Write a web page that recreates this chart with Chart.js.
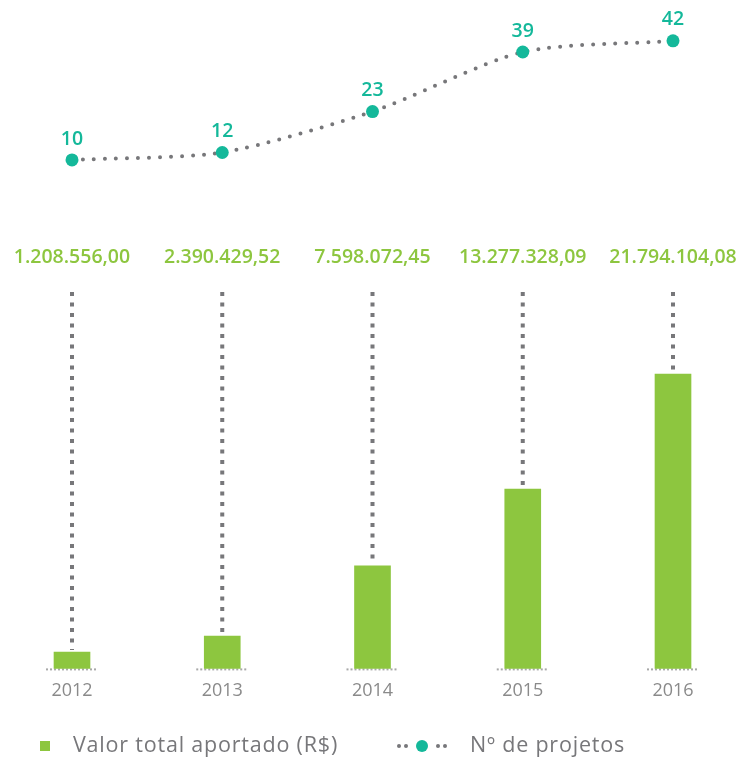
<!DOCTYPE html>
<html>
<head>
<meta charset="utf-8">
<script src="https://cdn.jsdelivr.net/npm/chart.js@4.4.1/dist/chart.umd.min.js"></script>
<style>
  html, body { margin: 0; padding: 0; background: #fff; }
  #wrap { width: 740px; height: 760px; }
</style>
</head>
<body>
<div id="wrap"><canvas id="chart" width="740" height="760"></canvas></div>
<script>
// data
const years = ['2012', '2013', '2014', '2015', '2016'];
const valorTotal = [1208556.00, 2390429.52, 7598072.45, 13277328.09, 21794104.08];
const valorLabels = ['1.208.556,00', '2.390.429,52', '7.598.072,45', '13.277.328,09', '21.794.104,08'];
const numProjetos = [10, 12, 23, 39, 42];

const GREEN = '#8dc63f';
const TEAL = '#14b89a';
const GREY = '#77777a';
const FONT = '"Open Sans", Lato, sans-serif';

// vertical dotted guides, value labels, point labels and legend
const extras = {
    id: 'extras',
    beforeDatasetsDraw(chart) {
        const ctx = chart.ctx;
        const bars = chart.getDatasetMeta(0).data;
        const bottom = chart.chartArea.bottom;
        ctx.save();
        bars.forEach((bar, i) => {
            // guide line from under the value label down to the bar top
            ctx.strokeStyle = GREY;
            ctx.lineWidth = 4;
            ctx.setLineDash([4, 6.5]);
            ctx.beginPath();
            ctx.moveTo(bar.x, 292);
            ctx.lineTo(bar.x, bar.y - 2);
            ctx.stroke();
            // small dotted baseline
            ctx.strokeStyle = '#a8a8a8';
            ctx.lineWidth = 2;
            ctx.setLineDash([2, 2]);
            ctx.beginPath();
            ctx.moveTo(bar.x - 26, bottom + 1);
            ctx.lineTo(bar.x + 26, bottom + 1);
            ctx.stroke();
            // value text
            ctx.setLineDash([]);
            ctx.fillStyle = GREEN;
            ctx.font = '600 19.5px ' + FONT;
            ctx.textAlign = 'center';
            ctx.textBaseline = 'middle';
            ctx.fillText(valorLabels[i], bar.x, 257);
        });
        ctx.restore();
    },
    afterDraw(chart) {
        const ctx = chart.ctx;
        const pts = chart.getDatasetMeta(1).data;
        ctx.save();
        ctx.fillStyle = TEAL;
        ctx.font = '600 19.5px ' + FONT;
        ctx.textAlign = 'center';
        ctx.textBaseline = 'middle';
        pts.forEach((p, i) => {
            ctx.fillText(String(numProjetos[i]), p.x, p.y - 21);
        });

        // legend
        const ly = 746;
        ctx.fillStyle = GREEN;
        ctx.fillRect(40, ly - 5, 10, 10);
        ctx.fillStyle = GREY;
        ctx.font = '21.5px ' + FONT;
        ctx.textAlign = 'left';
        ctx.letterSpacing = '0.8px';
        ctx.fillText('Valor total aportado (R$)', 73, ly);

        [399, 406, 438, 445].forEach(x => {
            ctx.beginPath();
            ctx.arc(x, ly, 2, 0, Math.PI * 2);
            ctx.fill();
        });
        ctx.fillStyle = TEAL;
        ctx.beginPath();
        ctx.arc(422, ly, 6, 0, Math.PI * 2);
        ctx.fill();
        ctx.fillStyle = GREY;
        ctx.fillText('Nº de projetos', 470, ly);
        ctx.restore();
    }
};

new Chart(document.getElementById('chart'), {
    type: 'bar',
    data: {
        labels: years,
        datasets: [{
            label: 'Valor total aportado (R$)',
            data: valorTotal,
            backgroundColor: GREEN,
            barThickness: 36,
            clip: false,
            yAxisID: 'y',
            order: 2
        }, {
            type: 'line',
            label: 'Nº de projetos',
            data: numProjetos,
            yAxisID: 'y2',
            borderColor: GREY,
            borderWidth: 4,
            borderDash: [0, 11],
            borderCapStyle: 'round',
            tension: 0.25,
            pointRadius: 6.5,
            pointBackgroundColor: TEAL,
            pointBorderWidth: 0,
            clip: false,
            fill: false,
            order: 1
        }]
    },
    options: {
        responsive: false,
        animation: false,
        layout: { padding: { left: 72, right: 67, top: 20, bottom: 46 } },
        plugins: {
            legend: { display: false },
            tooltip: { enabled: false }
        },
        scales: {
            x: {
                offset: false,
                grid: { display: false, drawTicks: false },
                border: { display: false },
                ticks: {
                    color: '#8a8a8a',
                    padding: 12,
                    font: { family: FONT, size: 18 }
                }
            },
            y: {
                display: false,
                min: 0,
                max: 48000000
            },
            y2: {
                display: false,
                min: -126.6,
                max: 47.6
            }
        }
    },
    plugins: [extras]
});
</script>
</body>
</html>
